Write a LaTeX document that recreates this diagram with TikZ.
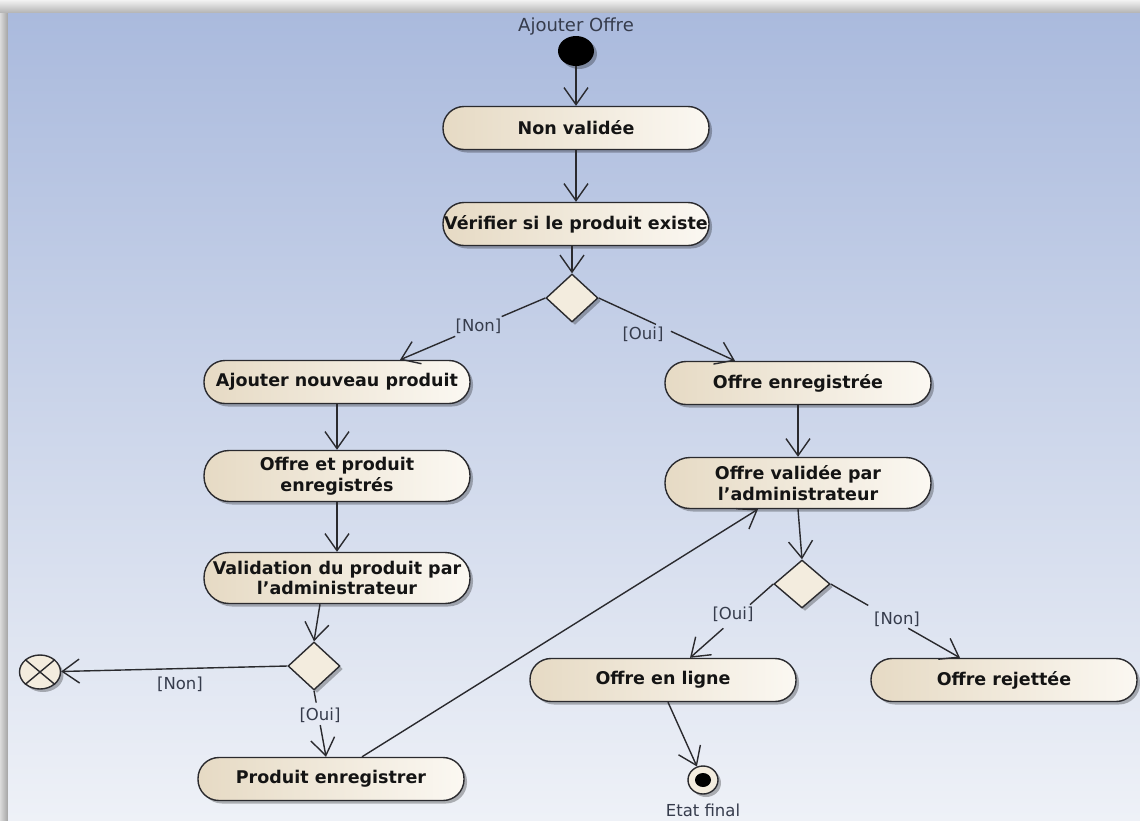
\documentclass[tikz,border=0pt]{standalone}
\usepackage{fontspec}
\setmainfont{DejaVu Sans}
\usetikzlibrary{arrows.meta,shapes.geometric,shadows,calc}
\definecolor{bgtop}{HTML}{AABADD}
\definecolor{bgmid}{HTML}{C8D1EA}
\definecolor{bgbot}{HTML}{EEF1F7}
\definecolor{linec}{HTML}{2A2A2E}
\definecolor{nodeL}{HTML}{E6DAC4}
\definecolor{nodeR}{HTML}{FBF8F2}
\definecolor{nodeM}{HTML}{F3ECDE}
\definecolor{txt}{HTML}{141414}
\definecolor{labc}{HTML}{363C4C}
\begin{document}
\begin{tikzpicture}[x=1pt,y=-1pt,
  shad/.style={drop shadow={shadow xshift=3pt, shadow yshift=-3pt, opacity=0.28, fill=black}},
  act/.style={rectangle, rounded corners=21pt, draw=linec, line width=1.4pt,
    minimum width=266pt, minimum height=43pt, inner xsep=0pt, inner ysep=2pt,
    align=center, left color=nodeL, right color=nodeR, text=txt,
    font=\bfseries\fontsize{17.5}{20.5}\selectfont, shad},
  act2/.style={act, rounded corners=25pt, minimum height=51pt},
  dia/.style={diamond, draw=linec, line width=1.4pt, fill=nodeM,
    minimum width=52pt, minimum height=48pt, inner sep=0pt, shad},
  startst/.style={ellipse, fill=black, minimum width=36pt, minimum height=30pt, inner sep=0pt, shad},
  finst/.style={ellipse, draw=linec, line width=1.4pt, fill=nodeM, minimum width=30pt, minimum height=28pt, inner sep=0pt, shad},
  ffin/.style={ellipse, draw=linec, line width=1.4pt, fill=nodeM, minimum width=41pt, minimum height=34pt, inner sep=0pt, shad},
  lab/.style={text=labc, font=\fontsize{16.5}{19}\selectfont, inner sep=1pt},
  line/.style={draw=linec, line width=1.4pt},
  flow/.style={line, -{Straight Barb[length=17pt,width=24pt,line width=1.4pt]}}
]
\useasboundingbox (0,0) rectangle (1140,820);
% background
\fill[color=black!12] (0,0) rectangle (1140,820);
\shade[top color=black!5, bottom color=black!30] (0,0) rectangle (1140,13);
\shade[left color=black!14, right color=black!36] (0,13) rectangle (8,820);
\shade[top color=bgtop, middle color=bgmid, bottom color=bgbot] (8,13) rectangle (1140,820);

% nodes
\node[startst] (st) at (576,51) {};
\node[lab, font=\fontsize{18}{20}\selectfont] (stl) at (576,27) {Ajouter Offre};
\node[act] (nv) at (576,128) {Non validée};
\node[act] (vs) at (576,224) {Vérifier si le produit existe};
\node[dia] (d1) at (572,298) {};
\node[act] (anp) at (337,382) {Ajouter nouveau produit};
\node[act] (oe) at (798,383) {Offre enregistrée};
\node[act2] (oep) at (337,476) {Offre et produit\\enregistrés};
\node[act2] (ov) at (798,483) {Offre validée par\\l’administrateur};
\node[act2] (vp) at (337,578) {Validation du produit par\\l’administrateur};
\node[dia] (d2) at (314,666) {};
\node[ffin] (ff) at (40,672) {};
\node[act] (pe) at (331,779) {Produit enregistrer};
\node[dia, minimum width=56pt] (d3) at (802,584) {};
\node[act] (oel) at (663,680) {Offre en ligne};
\node[act] (orj) at (1004,680) {Offre rejettée};
\node[finst] (fs) at (703,780) {};
\fill[black] (fs.center) ellipse (8pt and 7pt);
\node[lab] (fsl) at (703,810) {Etat final};
\draw[line] (ff.north west) -- (ff.south east) (ff.north east) -- (ff.south west);

% connector end points
\coordinate (a1) at ([xshift=63pt]anp.north);
\coordinate (a2) at ([xshift=-63pt]oe.north);
\coordinate (a3) at ([xshift=-5pt]pe.north);
\coordinate (a4) at ([xshift=27pt]oel.north);
\coordinate (a5) at ([xshift=-44pt]orj.north);

% connectors
\draw[flow] (st) -- (nv);
\draw[flow] (nv) -- (vs);
\draw[flow] (vs.south -| d1.north) -- (d1.north);
\draw[line] (d1.west) -- ($(d1.west)!0.30!(a1)$);
\draw[flow] ($(d1.west)!0.62!(a1)$) -- (a1);
\node[lab] (l1) at ($(d1.west)!0.46!(a1)$) {[Non]};
\draw[line] (d1.east) -- ($(d1.east)!0.42!(a2)$);
\draw[flow] ($(d1.east)!0.53!(a2)$) -- (a2);
\node[lab] (l2) at (643,334) {[Oui]};
\draw[flow] (anp) -- (oep);
\draw[flow] (oep) -- (vp);
\draw[flow] ([xshift=-17pt]vp.south) -- (d2.north);
\draw[flow] (d2.west) -- (ff);
\node[lab] (l3) at (180,684) {[Non]};
\draw[line] (d2.south) -- ($(d2.south)!0.18!(a3)$);
\draw[flow] ($(d2.south)!0.52!(a3)$) -- (a3);
\node[lab] (l4) at (320,715) {[Oui]};
\draw[flow] ([xshift=31pt]pe.north) -- ([xshift=-40pt]ov.south);
\draw[flow] (oe) -- (ov);
\draw[flow] (ov.south) -- (d3.north);
\draw[line] (d3.west) -- ($(d3.west)!0.28!(a4)$);
\draw[flow] ($(d3.west)!0.60!(a4)$) -- (a4);
\node[lab] (l5) at (733,614) {[Oui]};
\draw[line] (d3.east) -- ($(d3.east)!0.29!(a5)$);
\draw[flow] ($(d3.east)!0.60!(a5)$) -- (a5);
\node[lab] (l6) at (897,619) {[Non]};
\draw[flow] ([xshift=5pt]oel.south) -- (fs);
\end{tikzpicture}
\end{document}
